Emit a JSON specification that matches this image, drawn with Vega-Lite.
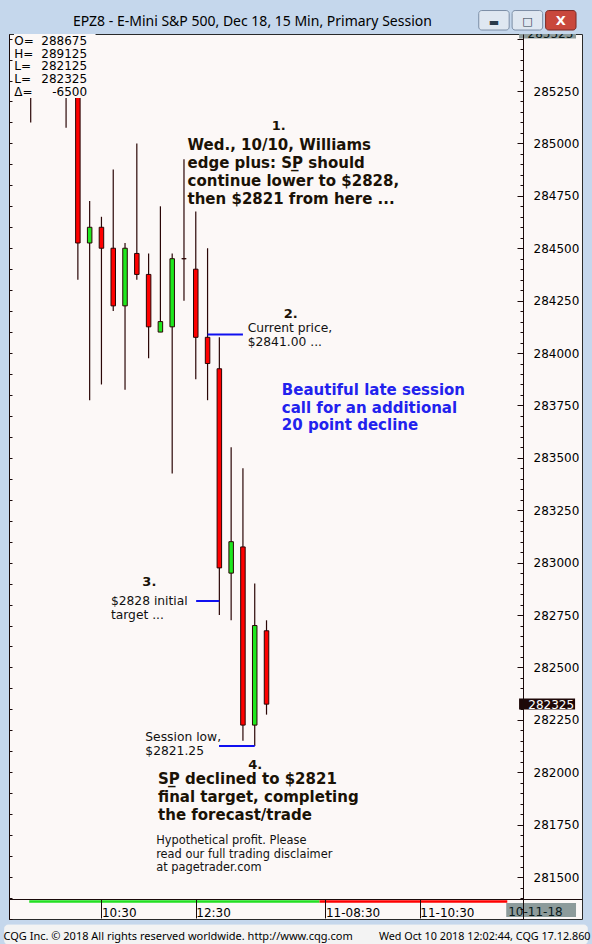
{
  "$schema": "https://vega.github.io/schema/vega-lite/v6.json",
  "width": 573,
  "height": 885,
  "autosize": {"type": "none"},
  "padding": {"left": 9, "top": 34, "right": 10, "bottom": 25},
  "background": "#c5d7ec",
  "title": {"text": "EPZ8 - E-Mini S&P 500, Dec 18, 15 Min, Primary Session", "anchor": "start", "frame": "group", "dx": 64, "dy": 39.5, "offset": 10, "baseline": "alphabetic", "font": "Noto Sans", "fontSize": 14, "fontWeight": "normal", "color": "#000000"},
  "config": {"view": {"fill": "#fcf8f7", "stroke": "#2a2a2a", "strokeWidth": 1}, "font": "DejaVu Sans"},
  "datasets": {
    "candles": [
      {"i": 0, "o": 2857.75, "h": 2859.0, "l": 2851.0, "c": 2854.5},
      {"i": 1, "o": 2854.5, "h": 2856.5, "l": 2852.5, "c": 2855.75},
      {"i": 2, "o": 2855.75, "h": 2857.0, "l": 2852.75, "c": 2853.25},
      {"i": 3, "o": 2853.25, "h": 2855.0, "l": 2850.75, "c": 2852.5},
      {"i": 4, "o": 2852.5, "h": 2853.75, "l": 2843.5, "c": 2845.25},
      {"i": 5, "o": 2845.25, "h": 2847.25, "l": 2837.75, "c": 2846.0},
      {"i": 6, "o": 2846.0, "h": 2846.5, "l": 2838.5, "c": 2845.0},
      {"i": 7, "o": 2845.0, "h": 2848.75, "l": 2842.0, "c": 2842.25},
      {"i": 8, "o": 2842.25, "h": 2845.25, "l": 2838.25, "c": 2845.0},
      {"i": 9, "o": 2844.75, "h": 2850.0, "l": 2843.5, "c": 2843.75},
      {"i": 10, "o": 2843.75, "h": 2844.75, "l": 2839.75, "c": 2841.25},
      {"i": 11, "o": 2841.0, "h": 2847.0, "l": 2841.0, "c": 2841.5},
      {"i": 12, "o": 2841.25, "h": 2844.75, "l": 2834.25, "c": 2844.5},
      {"i": 13, "o": 2844.5, "h": 2849.25, "l": 2842.5, "c": 2844.5},
      {"i": 14, "o": 2844.0, "h": 2846.75, "l": 2838.75, "c": 2840.75},
      {"i": 15, "o": 2840.75, "h": 2845.0, "l": 2837.75, "c": 2839.5},
      {"i": 16, "o": 2839.25, "h": 2840.75, "l": 2827.5, "c": 2829.75},
      {"i": 17, "o": 2829.5, "h": 2835.5, "l": 2827.25, "c": 2831.0},
      {"i": 18, "o": 2830.75, "h": 2834.5, "l": 2821.5, "c": 2822.25},
      {"i": 19, "o": 2822.25, "h": 2829.0, "l": 2821.25, "c": 2827.0},
      {"i": 20, "o": 2826.75, "h": 2827.25, "l": 2822.75, "c": 2823.25}
    ],
    "box": [{"x": -1.4167, "x2": 5.5, "y": 2855.22, "y2": 2852.17}],
    "strip": [
      {"x": -0.125, "x2": 24.5, "y": 2813.9, "y2": 2813.78, "s": "today"},
      {"x": 24.5, "x2": 40.42, "y": 2813.9, "y2": 2813.78, "s": "next"}
    ],
    "links": [
      {"x": 15, "x2": 18, "y": 2840.88},
      {"x": 14.03, "x2": 16, "y": 2828.17},
      {"x": 15.97, "x2": 19, "y": 2821.25}
    ],
    "notes": [
      {"g": "bold", "x": 13.3, "y": 2849.68, "t": ["Wed., 10/10, Williams", "edge plus: SP\u0332 should", "continue lower to $2828,", "then $2821 from here ..."]},
      {"g": "bold", "x": 10.8, "y": 2819.44, "t": ["SP\u0332 declined to $2821", "final target, completing", "the forecast/trade"]},
      {"g": "blue", "x": 21.3, "y": 2838.0, "t": ["Beautiful late session", "call for an additional", "20 point decline"]},
      {"g": "step", "x": 21.04, "y": 2850.64, "t": "1."},
      {"g": "step", "x": 22.06, "y": 2841.66, "t": "2."},
      {"g": "step", "x": 10.06, "y": 2828.9, "t": "3."},
      {"g": "step", "x": 19.04, "y": 2820.14, "t": "4."},
      {"g": "small", "x": 18.4, "y": 2841.0, "t": ["Current price,", "$2841.00 ..."]},
      {"g": "small", "x": 6.8, "y": 2827.98, "t": ["$2828 initial", "target ..."]},
      {"g": "small", "x": 9.72, "y": 2821.49, "t": ["Session low,", "$2821.25"]},
      {"g": "disc", "x": 10.64, "y": 2816.56, "t": ["Hypothetical profit. Please", "read our full trading disclaimer", "at pagetrader.com"]}
    ],
    "ohlcLab": [{"x": -1.4, "y": 2854.71, "t": ["O=", "H=", "L=", "L=", "\u0394="]}],
    "ohlcVal": [{"x": 4.78, "y": 2854.71, "t": ["288675", "289125", "282125", "282325", "-6500"]}],
    "tags": [
      {"k": "scale", "x": 41.42, "x2": 46.25, "y": 2855.22, "y2": 2855.0, "tx": 42.14, "ty": 2855.03, "t": "285525"},
      {"k": "last", "x": 41.42, "x2": 46.17, "y": 2823.52, "y2": 2822.99, "tx": 42.2, "ty": 2823.02, "t": "282325"},
      {"k": "date", "x": 40.33, "x2": 46.25, "y": 2813.76, "y2": 2813.09, "tx": 40.5, "ty": 2813.14, "t": "10-11-18"}
    ],
    "chrome": [
      {"k": "min", "x": 38.0, "x2": 40.58, "y": 2856.34, "y2": 2855.41, "gx": 39.29, "gy": 2855.62, "t": "\u25ac"},
      {"k": "max", "x": 40.83, "x2": 43.42, "y": 2856.34, "y2": 2855.41, "gx": 42.125, "gy": 2855.65, "t": "\u25a1"},
      {"k": "close", "x": 43.67, "x2": 46.25, "y": 2856.34, "y2": 2855.41, "gx": 44.96, "gy": 2855.66, "t": "X"},
      {"k": "status", "x": -2.2, "x2": 47.2, "y": 2812.71, "y2": 2811.8, "gx": 0, "gy": 2812, "t": ""}
    ]
  },
  "layer": [
    {
      "layer": [
        {
          "data": {"name": "chrome"},
          "mark": {"type": "rect", "cornerRadius": 3, "strokeWidth": 1},
          "encoding": {
            "x": {"field": "x", "type": "quantitative"}, "x2": {"field": "x2"},
            "y": {"field": "y", "type": "quantitative"}, "y2": {"field": "y2"},
            "fill": {"condition": [{"test": "datum.k === 'close'", "value": "#c9483c"}, {"test": "datum.k === 'status'", "value": "#f3f3f3"}], "value": "#dfe7f1"},
            "stroke": {"condition": [{"test": "datum.k === 'close'", "value": "#7a2a26"}, {"test": "datum.k === 'status'", "value": "#f3f3f3"}], "value": "#7c8ea6"}
          }
        },
        {
          "data": {"name": "chrome"},
          "transform": [{"filter": "datum.k !== 'status'"}],
          "mark": {"type": "text", "font": "DejaVu Sans", "fontWeight": "bold", "align": "center", "baseline": "alphabetic"},
          "encoding": {
            "x": {"field": "gx", "type": "quantitative"},
            "y": {"field": "gy", "type": "quantitative"},
            "text": {"field": "t", "type": "nominal"},
            "color": {"condition": {"test": "datum.k === 'close'", "value": "#ffffff"}, "value": "#2a3a4a"},
            "size": {"condition": {"test": "datum.k === 'close'", "value": 13}, "value": 11}
          }
        },
        {
          "data": {"name": "candles"},
          "mark": {"type": "rule", "color": "#2a0606", "strokeWidth": 1.2, "clip": true},
          "encoding": {
            "x": {"field": "i", "type": "quantitative", "scale": {"domain": [-1.4167, 46.333], "nice": false, "zero": false},
              "axis": {"orient": "bottom", "offset": -20, "values": [6, 14, 25, 33], "labelExpr": "datum.value == 6 ? '10:30' : datum.value == 14 ? '12:30' : datum.value == 25 ? '11-08:30' : '11-10:30'", "tickSize": 19, "labelPadding": -2, "labelAlign": "left", "labelBaseline": "alphabetic", "labelDx": 4, "labelFont": "DejaVu Sans", "labelFontSize": 12, "labelColor": "#000000", "labelFlush": false, "labelOverlap": false, "labelBound": false, "domainColor": "#1a0a0a", "tickColor": "#1a0a0a", "grid": false, "zindex": 1,
                "title": "CQG Inc. \u00a9 2018 All rights reserved worldwide. http://www.cqg.com", "titleX": -6, "titleY": 37, "titleAlign": "left", "titleBaseline": "middle", "titleFont": "Noto Sans", "titleFontSize": 11, "titleFontWeight": "normal", "titleColor": "#000000"}},
            "y": {"field": "l", "type": "quantitative", "scale": {"domain": [2813.0, 2855.22], "nice": false, "zero": false},
              "axis": {"orient": "right", "offset": -59, "tickCount": 84, "tickSize": {"condition": {"test": "abs(datum.value/2.5 - round(datum.value/2.5)) < 0.01", "value": -6}, "value": -3}, "labelExpr": "abs(datum.value/2.5 - round(datum.value/2.5)) < 0.01 && datum.value < 2854 ? format(round(datum.value*100), 'd') : ''", "labelPadding": 16, "labelAlign": "left", "labelFont": "DejaVu Sans", "labelFontSize": 12, "labelColor": "#000000", "labelOverlap": false, "labelFlush": false, "labelBound": false, "domainColor": "#1a0a0a", "tickColor": "#1a0a0a", "grid": false, "zindex": 1,
                "title": "Wed Oct 10 2018 12:02:44, CQG 17.12.860", "titleAngle": 0, "titleX": 67, "titleY": 902, "titleAlign": "right", "titleBaseline": "middle", "titleFont": "Noto Sans", "titleFontSize": 10.8, "titleFontWeight": "normal", "titleColor": "#000000"}},
            "y2": {"field": "h"}
          }
        },
        {
          "data": {"name": "candles"},
          "mark": {"type": "bar", "width": 4.5, "stroke": "#2a0505", "strokeWidth": 1, "clip": true},
          "encoding": {
            "x": {"field": "i", "type": "quantitative"},
            "y": {"field": "o", "type": "quantitative"},
            "y2": {"field": "c"},
            "fill": {"condition": {"test": "datum.c < datum.o", "value": "#ff0000"}, "value": "#1fe81f"}
          }
        },
        {
          "data": {"name": "box"},
          "mark": {"type": "rect", "fill": "#fcf8f7", "clip": true},
          "encoding": {
            "x": {"field": "x", "type": "quantitative"}, "x2": {"field": "x2"},
            "y": {"field": "y", "type": "quantitative"}, "y2": {"field": "y2"}
          }
        },
        {
          "data": {"name": "strip"},
          "mark": {"type": "rect"},
          "encoding": {
            "x": {"field": "x", "type": "quantitative"}, "x2": {"field": "x2"},
            "y": {"field": "y", "type": "quantitative"}, "y2": {"field": "y2"},
            "fill": {"condition": {"test": "datum.s === 'today'", "value": "#22e022"}, "value": "#ff0000"}
          }
        },
        {
          "data": {"name": "links"},
          "mark": {"type": "rule", "color": "#1010f0", "strokeWidth": 2},
          "encoding": {
            "x": {"field": "x", "type": "quantitative"}, "x2": {"field": "x2"},
            "y": {"field": "y", "type": "quantitative"}
          }
        },
        {
          "data": {"name": "notes"},
          "transform": [{"filter": "datum.g === 'bold'"}],
          "mark": {"type": "text", "font": "DejaVu Sans", "fontSize": 15, "fontWeight": "bold", "align": "left", "baseline": "alphabetic", "lineHeight": 18, "color": "#1a1206"},
          "encoding": {
            "x": {"field": "x", "type": "quantitative"},
            "y": {"field": "y", "type": "quantitative"},
            "text": {"field": "t", "type": "nominal"}
          }
        },
        {
          "data": {"name": "notes"},
          "transform": [{"filter": "datum.g === 'blue'"}],
          "mark": {"type": "text", "font": "DejaVu Sans", "fontSize": 15, "fontWeight": "bold", "align": "left", "baseline": "alphabetic", "lineHeight": 17.6, "color": "#2222ee"},
          "encoding": {
            "x": {"field": "x", "type": "quantitative"},
            "y": {"field": "y", "type": "quantitative"},
            "text": {"field": "t", "type": "nominal"}
          }
        },
        {
          "data": {"name": "notes"},
          "transform": [{"filter": "datum.g === 'step'"}],
          "mark": {"type": "text", "font": "DejaVu Sans", "fontSize": 13, "fontWeight": "bold", "align": "center", "baseline": "alphabetic", "color": "#1a1206"},
          "encoding": {
            "x": {"field": "x", "type": "quantitative"},
            "y": {"field": "y", "type": "quantitative"},
            "text": {"field": "t", "type": "nominal"}
          }
        },
        {
          "data": {"name": "notes"},
          "transform": [{"filter": "datum.g === 'small'"}],
          "mark": {"type": "text", "font": "DejaVu Sans", "fontSize": 12.3, "align": "left", "baseline": "alphabetic", "lineHeight": 13.7, "color": "#111111"},
          "encoding": {
            "x": {"field": "x", "type": "quantitative"},
            "y": {"field": "y", "type": "quantitative"},
            "text": {"field": "t", "type": "nominal"}
          }
        },
        {
          "data": {"name": "notes"},
          "transform": [{"filter": "datum.g === 'disc'"}],
          "mark": {"type": "text", "font": "DejaVu Sans", "fontSize": 11.4, "align": "left", "baseline": "alphabetic", "lineHeight": 13.2, "color": "#111111"},
          "encoding": {
            "x": {"field": "x", "type": "quantitative"},
            "y": {"field": "y", "type": "quantitative"},
            "text": {"field": "t", "type": "nominal"}
          }
        },
        {
          "data": {"name": "ohlcVal"},
          "mark": {"type": "text", "font": "DejaVu Sans", "fontSize": 12, "align": "right", "baseline": "alphabetic", "lineHeight": 12.9, "color": "#000000"},
          "encoding": {
            "x": {"field": "x", "type": "quantitative"},
            "y": {"field": "y", "type": "quantitative"},
            "text": {"field": "t", "type": "nominal"}
          }
        },
        {
          "data": {"name": "tags"},
          "mark": {"type": "rect", "clip": true},
          "encoding": {
            "x": {"field": "x", "type": "quantitative"}, "x2": {"field": "x2"},
            "y": {"field": "y", "type": "quantitative"}, "y2": {"field": "y2"},
            "fill": {"condition": {"test": "datum.k === 'last'", "value": "#1e0808"}, "value": "#8d9b9b"}
          }
        },
        {
          "data": {"name": "tags"},
          "mark": {"type": "text", "font": "DejaVu Sans", "fontSize": 12, "align": "left", "baseline": "alphabetic", "clip": true},
          "encoding": {
            "x": {"field": "tx", "type": "quantitative"},
            "y": {"field": "ty", "type": "quantitative"},
            "text": {"field": "t", "type": "nominal"},
            "color": {"condition": {"test": "datum.k === 'last'", "value": "#ffffff"}, "value": "#0a1a1a"}
          }
        }
      ]
    },
    {
      "data": {"name": "ohlcLab"},
      "mark": {"type": "text", "font": "DejaVu Sans", "fontSize": 12, "align": "left", "baseline": "alphabetic", "lineHeight": 12.9, "color": "#000000"},
      "encoding": {
        "x": {"field": "x", "type": "quantitative"},
        "y": {"field": "y", "type": "quantitative", "scale": {"domain": [2813.0, 2855.22], "nice": false, "zero": false},
          "axis": {"orient": "left", "tickCount": 42, "tickSize": -3, "labels": false, "domain": true, "domainColor": "#1a0a0a", "tickColor": "#1a0a0a", "grid": false, "zindex": 1, "title": null}},
        "text": {"field": "t", "type": "nominal"}
      }
    }
  ],
  "resolve": {"scale": {"y": "independent"}}
}
